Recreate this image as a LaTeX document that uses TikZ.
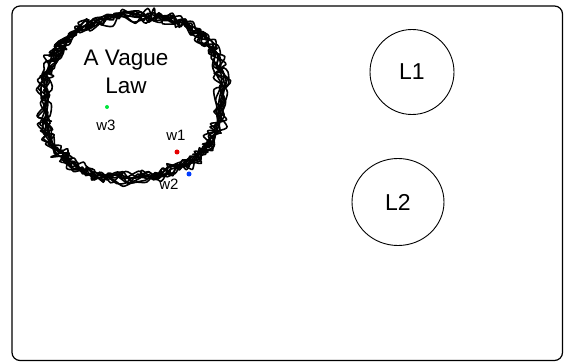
\documentclass[tikz,border=0pt]{standalone}
\usepackage{fontspec}
\setmainfont{Liberation Sans}
\usetikzlibrary{shapes.geometric}
\begin{document}
\begin{tikzpicture}[x=1pt,y=1pt,
  frame/.style={draw=black,line width=1.2pt,rounded corners=8pt},
  lawcircle/.style={draw=black,line width=0.9pt,ellipse,font=\fontsize{23}{27}\selectfont},
  blob/.style={draw=black,line width=1.6pt,line join=round},
  bigtext/.style={font=\fontsize{22.5}{28}\selectfont,align=center,inner sep=0pt},
  smalltext/.style={font=\fontsize{15}{18}\selectfont,inner sep=0pt},
  dot/.style={circle,inner sep=0pt,minimum size=5pt}]
\useasboundingbox (0,0) rectangle (566,362);
\fill[white] (0,0) rectangle (566,362);
\draw[frame] (12,1.5) rectangle (562.5,356);
% scribbled blob
\pgfmathsetseed{11}
\foreach \k in {1,...,9}{
  \draw[blob] plot[smooth cycle, domain=1:355, samples=85, variable=\t]
   ({133+(89+6*rand)*sign(cos(\t))*pow(abs(cos(\t)),0.85)+4*rand},
    {265+(81+5*rand)*sign(sin(\t))*pow(abs(sin(\t)),0.85)+4*rand+4*cos(\t)});
}
\node[bigtext] (law) at (126,290) {A Vague\\Law};
\node[dot,fill={rgb,255:red,0;green,230;blue,60},minimum size=4pt] (w3d) at (107,255) {};
\node[smalltext] (w3) at (106,237) {w3};
\node[dot,fill={rgb,255:red,230;green,0;blue,0}] (w1d) at (177,210) {};
\node[smalltext] (w1) at (176,227) {w1};
\node[dot,fill={rgb,255:red,0;green,60;blue,255}] (w2d) at (189,188) {};
\node[smalltext] (w2) at (169,178) {w2};
\node[lawcircle,minimum width=84pt,minimum height=85pt] (L1) at (412,290) {L1};
\node[lawcircle,minimum width=92pt,minimum height=87pt] (L2) at (398,160) {L2};
\end{tikzpicture}
\end{document}
